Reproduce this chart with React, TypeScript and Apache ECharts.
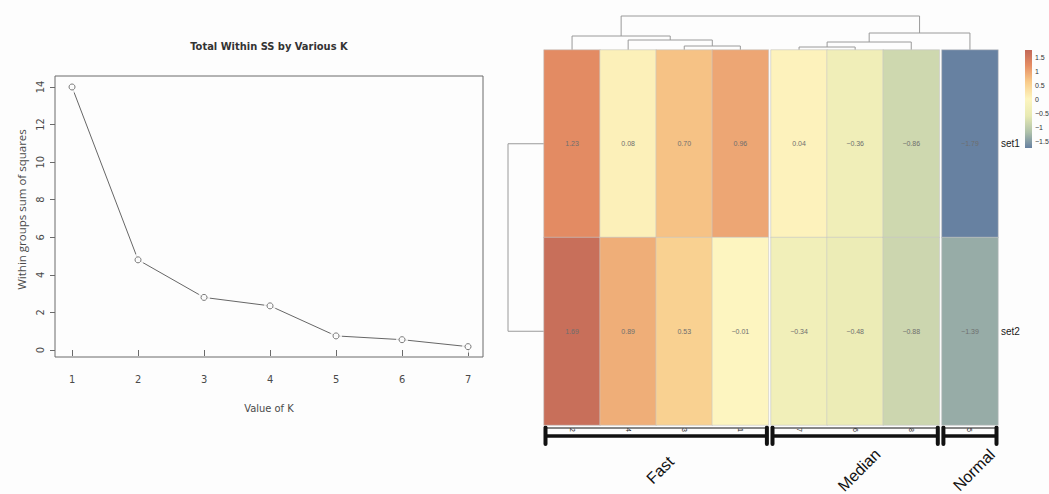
import React, { useEffect, useRef } from "react";
import * as echarts from "echarts";

// ---------- data ----------
const kValues = [1, 2, 3, 4, 5, 6, 7];
const withinSS = [14.0, 4.8, 2.8, 2.35, 0.75, 0.55, 0.18];
const elbowYTicks = [0, 2, 4, 6, 8, 10, 12, 14];

const colLabels = ["2", "4", "3", "1", "7", "6", "8", "5"];
const colGroups = ["Fast", "Fast", "Fast", "Fast", "Median", "Median", "Median", "Normal"];
const rowLabels = ["set1", "set2"];
const set1Values = [1.23, 0.08, 0.7, 0.96, 0.04, -0.36, -0.86, -1.79];
const set2Values = [1.69, 0.89, 0.53, -0.01, -0.34, -0.48, -0.88, -1.39];
const legendTicks = [1.5, 1, 0.5, 0, -0.5, -1, -1.5];

// hclust-like merges: "#n" refers to the n-th merge (1-based)
const colMerges: [string, string, number][] = [
  ["3", "1", 0.4],
  ["4", "#1", 1.0],
  ["2", "#2", 1.4],
  ["7", "6", 0.3],
  ["#4", "8", 0.8],
  ["#5", "5", 1.7],
  ["#3", "#6", 3.4],
];
const rowMerges: [string, string, number][] = [["set1", "set2", 1.0]];

// ---------- layout / style ----------
const W = 1049;
const H = 494;
const BG = "#fdfdfd";
const HM_LEFT = 544;
const HM_TOP = 50;
const HM_HEIGHT = 375;
const CELL_W = 56.1;
const GROUP_GAP = 2.6;
const COL_TREE_PX = 34;
const ROW_TREE_PX = 36;
const COLOR_MIN = -1.8;
const COLOR_MAX = 1.8;
const PALETTE = ["#6680a1", "#adc0aa", "#e8eab3", "#fdf5c0", "#f9cc8b", "#e58d64", "#c26858"];
const LEG_X = 1025;
const LEG_W = 7;
const LEG_ZERO_Y = 99;
const LEG_PX_PER_UNIT = 28;
const LEG_HALF = 1.75;
const CONDENSED = "'Liberation Sans Narrow', 'DejaVu Sans Condensed', 'Open Sans', sans-serif";
const ARIAL = "'Liberation Sans', Arial, sans-serif";

const fmt = (v: number) => v.toFixed(2).replace("-", "\u2212");

export default function App() {
  const ref = useRef<HTMLDivElement>(null);

  useEffect(() => {
    if (!ref.current) return;
    const chart = echarts.init(ref.current, null, { renderer: "svg" });

    // groups
    const groups: string[] = [];
    colGroups.forEach((g) => {
      if (!groups.includes(g)) groups.push(g);
    });
    const groupCols = groups.map((g) => colLabels.map((c, i) => (colGroups[i] === g ? i : -1)).filter((i) => i >= 0));
    const groupLefts: number[] = [];
    let cur = HM_LEFT;
    groupCols.forEach((cols) => {
      groupLefts.push(cur);
      cur += cols.length * CELL_W + GROUP_GAP;
    });

    const grids: any[] = [
      { left: 55, top: 76, width: 428, height: 281, show: true, borderColor: "#6a6a6a", borderWidth: 1, backgroundColor: "transparent" },
    ];
    const xAxes: any[] = [
      {
        type: "value",
        gridIndex: 0,
        min: 0.742,
        max: 7.227,
        axisLine: { show: false },
        splitLine: { show: false },
        axisTick: { show: true, customValues: kValues, length: 6, lineStyle: { color: "#6a6a6a" } },
        axisLabel: { customValues: kValues, fontSize: 11, color: "#4a4a4a", margin: 17, fontFamily: CONDENSED },
        name: "Value of K",
        nameLocation: "middle",
        nameGap: 46,
        nameTextStyle: { fontSize: 11, color: "#4a4a4a", fontFamily: CONDENSED },
      },
    ];
    const yAxes: any[] = [
      {
        type: "value",
        gridIndex: 0,
        min: -0.372,
        max: 14.585,
        axisLine: { show: false },
        splitLine: { show: false },
        axisTick: { show: true, customValues: elbowYTicks, length: 5, lineStyle: { color: "#6a6a6a" } },
        axisLabel: { customValues: elbowYTicks, rotate: 90, fontSize: 11, color: "#4a4a4a", margin: 9, fontFamily: CONDENSED },
        name: "Within groups sum of squares",
        nameLocation: "middle",
        nameGap: 28,
        nameTextStyle: { fontSize: 11.5, color: "#4a4a4a", fontFamily: "'Open Sans', sans-serif", padding: [0, 0, 0, 14] },
      },
    ];
    const series: any[] = [
      {
        type: "line",
        xAxisIndex: 0,
        yAxisIndex: 0,
        data: kValues.map((k, i) => [k, withinSS[i]]),
        showSymbol: false,
        lineStyle: { color: "#666", width: 1 },
        z: 1,
        silent: true,
      },
      {
        type: "scatter",
        xAxisIndex: 0,
        yAxisIndex: 0,
        data: kValues.map((k, i) => [k, withinSS[i]]),
        symbol: "circle",
        symbolSize: 12,
        itemStyle: { color: BG },
        z: 2,
        silent: true,
      },
      {
        type: "scatter",
        xAxisIndex: 0,
        yAxisIndex: 0,
        data: kValues.map((k, i) => [k, withinSS[i]]),
        symbol: "circle",
        symbolSize: 6,
        itemStyle: { color: BG, borderColor: "#5a5a5a", borderWidth: 1 },
        z: 3,
        silent: true,
      },
    ];

    const heatSeriesIdx: number[] = [];
    groupCols.forEach((cols, g) => {
      grids.push({ left: groupLefts[g], top: HM_TOP, width: cols.length * CELL_W, height: HM_HEIGHT });
      xAxes.push({
        type: "category",
        gridIndex: g + 1,
        data: cols.map((i) => colLabels[i]),
        position: "bottom",
        axisLine: { show: false },
        axisTick: { show: false },
        splitLine: { show: false },
        axisLabel: { rotate: -90, fontSize: 7, color: "#222", margin: 3, fontFamily: ARIAL },
      });
      const isLast = g === groupCols.length - 1;
      yAxes.push({
        type: "category",
        gridIndex: g + 1,
        data: rowLabels,
        inverse: true,
        position: "right",
        axisLine: { show: false },
        axisTick: { show: false },
        splitLine: { show: false },
        axisLabel: { show: isLast, fontSize: 10, color: "#1a1a1a", margin: 3, fontFamily: ARIAL },
      });
      heatSeriesIdx.push(series.length);
      const data: any[] = [];
      cols.forEach((ci, j) => {
        data.push([j, 0, set1Values[ci]]);
        data.push([j, 1, set2Values[ci]]);
      });
      series.push({
        type: "heatmap",
        xAxisIndex: g + 1,
        yAxisIndex: g + 1,
        data,
        label: {
          show: true,
          fontSize: 7,
          color: "#6e6e6e",
          fontFamily: ARIAL,
          formatter: (p: any) => fmt(p.value[2]),
        },
        itemStyle: { borderColor: "#c6c6c6", borderWidth: 0.6 },
        emphasis: { disabled: true },
        silent: true,
      });
    });

    chart.setOption({
      animation: false,
      backgroundColor: BG,
      grid: grids,
      xAxis: xAxes,
      yAxis: yAxes,
      visualMap: {
        type: "continuous",
        show: false,
        min: COLOR_MIN,
        max: COLOR_MAX,
        dimension: 2,
        seriesIndex: heatSeriesIdx,
        inRange: { color: PALETTE },
      },
      series,
    });

    // ----- second pass: graphics derived from axis positions -----
    const colX: number[] = colLabels.map((_, i) => {
      const g = groups.indexOf(colGroups[i]);
      const j = groupCols[g].indexOf(i);
      return chart.convertToPixel({ xAxisIndex: g + 1 } as any, j) as any;
    });
    const rowY: number[] = rowLabels.map((_, r) => chart.convertToPixel({ yAxisIndex: 1 } as any, r) as any);

    const graphics: any[] = [];
    const lineStyle = { stroke: "#9a9a9a", lineWidth: 1, fill: null };

    // title
    graphics.push({
      type: "text",
      x: 269,
      y: 46,
      style: { text: "Total Within SS by Various K", fontSize: 11, fontWeight: "bold", fill: "#333", align: "center", verticalAlign: "middle", fontFamily: CONDENSED },
    });

    // column dendrogram
    const colMaxH = Math.max(...colMerges.map((m) => m[2]));
    const colNodes: { x: number; y: number }[] = [];
    const colNode = (id: string) => {
      if (id.startsWith("#")) return colNodes[parseInt(id.slice(1), 10) - 1];
      return { x: colX[colLabels.indexOf(id)], y: HM_TOP };
    };
    colMerges.forEach(([a, b, h]) => {
      const na = colNode(a);
      const nb = colNode(b);
      const y = HM_TOP - (h / colMaxH) * COL_TREE_PX;
      graphics.push({ type: "polyline", shape: { points: [[na.x, na.y], [na.x, y], [nb.x, y], [nb.x, nb.y]] }, style: lineStyle, silent: true });
      colNodes.push({ x: (na.x + nb.x) / 2, y });
    });

    // row dendrogram
    const rowMaxH = Math.max(...rowMerges.map((m) => m[2]));
    const rowNodes: { x: number; y: number }[] = [];
    const rowNode = (id: string) => {
      if (id.startsWith("#")) return rowNodes[parseInt(id.slice(1), 10) - 1];
      return { x: HM_LEFT, y: rowY[rowLabels.indexOf(id)] };
    };
    rowMerges.forEach(([a, b, h]) => {
      const na = rowNode(a);
      const nb = rowNode(b);
      const x = HM_LEFT - (h / rowMaxH) * ROW_TREE_PX;
      graphics.push({ type: "polyline", shape: { points: [[na.x, na.y], [x, na.y], [x, nb.y], [nb.x, nb.y]] }, style: lineStyle, silent: true });
      rowNodes.push({ x, y: (na.y + nb.y) / 2 });
    });

    // group brackets and labels
    groupCols.forEach((cols, g) => {
      const left = groupLefts[g];
      const right = left + cols.length * CELL_W;
      const l = left + 1.5;
      const r = right - 1.5;
      graphics.push({ type: "line", shape: { x1: l, y1: 428, x2: r, y2: 428 }, style: { stroke: "#111", lineWidth: 1 }, silent: true });
      graphics.push({ type: "line", shape: { x1: l, y1: 436, x2: r, y2: 436 }, style: { stroke: "#111", lineWidth: 3.5 }, silent: true });
      [l, r].forEach((x) =>
        graphics.push({ type: "line", shape: { x1: x, y1: 427.5, x2: x, y2: 444 }, style: { stroke: "#111", lineWidth: 4, lineCap: "round" }, silent: true })
      );
      const cx = (left + right) / 2;
      graphics.push({
        type: "text",
        x: cx + 4,
        y: 470,
        rotation: Math.PI / 4,
        style: { text: groups[g], fontSize: 16, fill: "#111", align: "center", verticalAlign: "middle", fontFamily: ARIAL },
      });
    });

    // colour legend
    const legY = (v: number) => LEG_ZERO_Y - v * LEG_PX_PER_UNIT;
    const stops = PALETTE.map((c, i) => {
      const v = COLOR_MIN + (i * (COLOR_MAX - COLOR_MIN)) / (PALETTE.length - 1);
      const off = Math.min(1, Math.max(0, (LEG_HALF - v) / (2 * LEG_HALF)));
      return { offset: off, color: c };
    }).sort((a, b) => a.offset - b.offset);
    graphics.push({
      type: "rect",
      shape: { x: LEG_X, y: legY(LEG_HALF), width: LEG_W, height: legY(-LEG_HALF) - legY(LEG_HALF) },
      style: { fill: new echarts.graphic.LinearGradient(0, 0, 0, 1, stops) },
      silent: true,
    });
    legendTicks.forEach((v) => {
      graphics.push({
        type: "text",
        x: LEG_X + LEG_W + 3,
        y: legY(v),
        style: { text: String(v).replace("-", "\u2212"), fontSize: 7, fill: "#333", align: "left", verticalAlign: "middle", fontFamily: ARIAL },
        silent: true,
      });
    });

    chart.setOption({ graphic: graphics });

    return () => chart.dispose();
  }, []);

  return <div ref={ref} style={{ position: "fixed", left: 0, top: 0, width: W, height: H }} />;
}
